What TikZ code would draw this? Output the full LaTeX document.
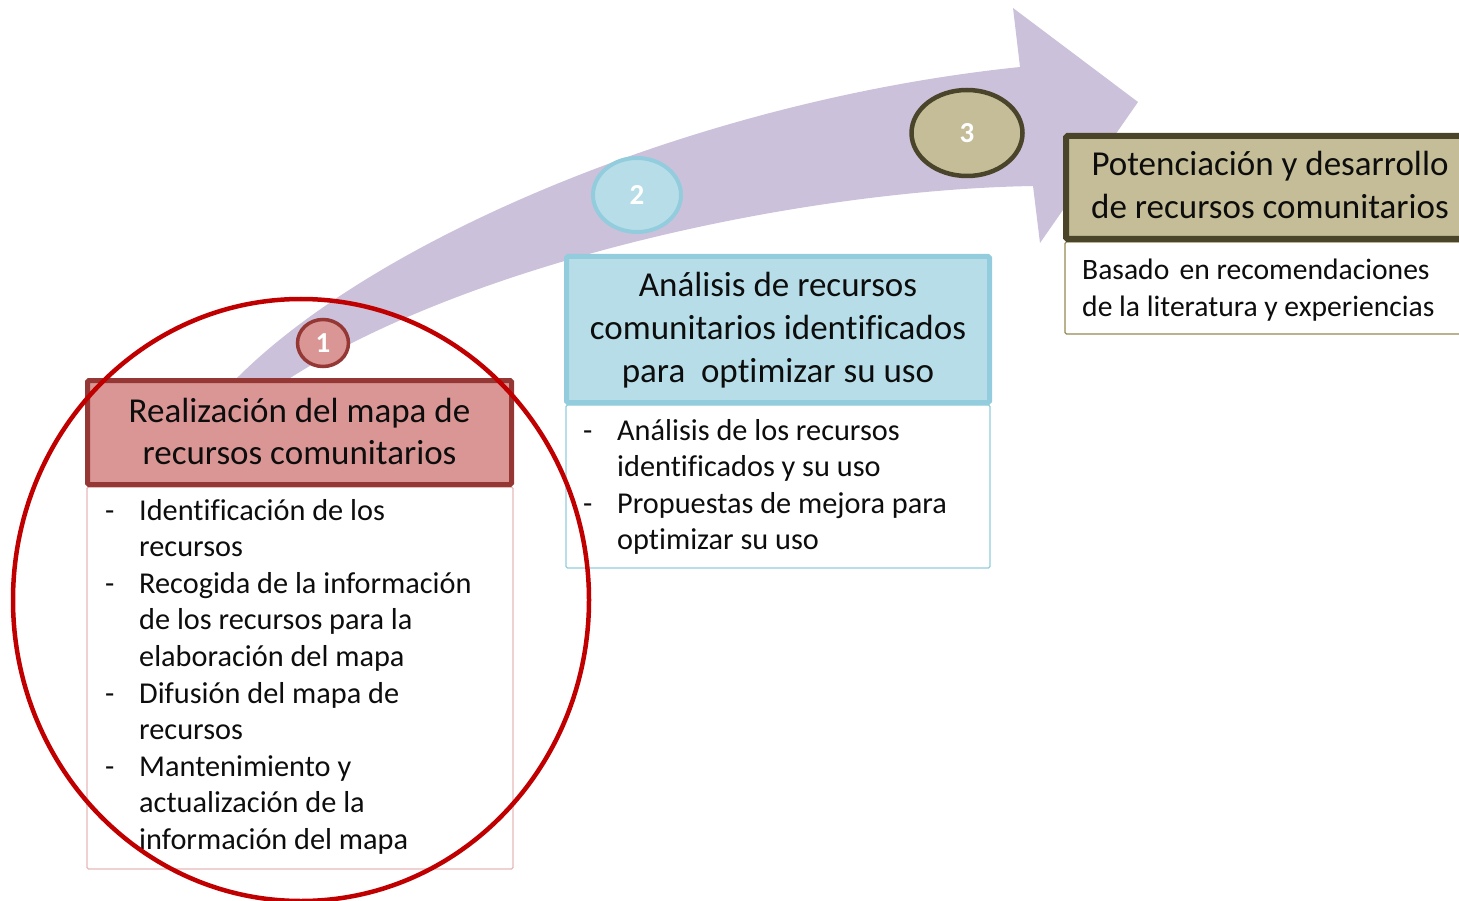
\documentclass[tikz,border=0pt]{standalone}
\usepackage{fontspec}
\setmainfont{Carlito}[Ligatures=NoCommon]
\usetikzlibrary{shapes.geometric}
\definecolor{arrowc}{HTML}{CCC1DA}
\definecolor{redfill}{HTML}{D99694}
\definecolor{redline}{HTML}{953735}
\definecolor{redthin}{HTML}{E6B9B8}
\definecolor{bluefill}{HTML}{B7DEE8}
\definecolor{blueline}{HTML}{93CDDD}
\definecolor{olivefill}{HTML}{C4BD97}
\definecolor{oliveline}{HTML}{4A452A}
\definecolor{olivethin}{HTML}{948A54}
\definecolor{bigred}{HTML}{C00000}
\definecolor{txtc}{HTML}{0D0D0D}
\newcommand{\dashitem}{\makebox[34pt][l]{-}}
\newcommand{\noitem}{\hspace*{34pt}}
\newcommand{\numtxt}[1]{\fontsize{29}{29}\selectfont\bfseries #1}
\begin{document}
\begin{tikzpicture}[x=1pt,y=-1pt,
  box/.style={rectangle, inner sep=0pt, rounded corners=1.5pt},
  thinbox/.style={box, line width=1.2pt, fill=white},
  num/.style={ellipse, inner sep=0pt, text=white},
  hdrtext/.style={inner sep=0pt, anchor=base, text=txtc, font=\fontsize{35}{42.6}\selectfont},
  bodytext/.style={inner sep=0pt, anchor=base west, text=txtc, font=\fontsize{30.3}{36.6}\selectfont}]
\useasboundingbox (0,0) rectangle (1459,901);
\clip (0,0) rectangle (1459,901);

% curved arrow
\fill[arrowc] (235,380) .. controls (375,238) and (700,100) .. (1020,67)
  -- (1013,8) -- (1138,102) -- (1040,243) -- (1033,186)
  .. controls (800,190) and (470,262) .. (287,380) -- cycle;

% step number ellipses
\node[num, draw=redline, fill=redfill, line width=3.5pt, minimum width=51pt, minimum height=47pt] (n1) at (323,343) {\numtxt{1}};
\node[num, draw=blueline, fill=bluefill, line width=4pt, minimum width=88pt, minimum height=74pt] (n2) at (637,195) {\numtxt{2}};
\node[num, draw=oliveline, fill=olivefill, line width=4.5pt, minimum width=111pt, minimum height=86pt] (n3) at (967,133) {\numtxt{3}};

% body boxes
\node[thinbox, draw=redthin, minimum width=426pt, minimum height=382pt] (b1) at (300,678) {};
\node[thinbox, draw=blueline, minimum width=424pt, minimum height=163pt] (b2) at (778,486.5) {};
\node[thinbox, draw=olivethin, minimum width=410pt, minimum height=92pt] (b3) at (1270,288) {};

% header boxes
\node[box, draw=redline, fill=redfill, line width=5pt, minimum width=424pt, minimum height=104pt] (h1) at (299.5,432.5) {};
\node[box, draw=blueline, fill=bluefill, line width=5pt, minimum width=423pt, minimum height=146pt] (h2) at (778,329.5) {};
\node[box, draw=oliveline, fill=olivefill, line width=6pt, minimum width=411pt, minimum height=103pt] (h3) at (1271.5,187.5) {};

% header texts
\node[hdrtext] (t1) at (299.5,422) {\begin{tabular}[t]{@{}c@{}}Realización del mapa de\\recursos comunitarios\end{tabular}};
\node[hdrtext] (t2) at (778,297) {\begin{tabular}[t]{@{}c@{}}Análisis de recursos\\comunitarios identificados\\para\ \ optimizar su uso\end{tabular}};
\node[hdrtext] (t3) at (1270,176) {\begin{tabular}[t]{@{}c@{}}Potenciación y desarrollo\\de recursos comunitarios\end{tabular}};

% body texts
\node[bodytext] (l1) at (105,520) {\begin{tabular}[t]{@{}l@{}}
\dashitem Identificación de los\\
\noitem recursos\\
\dashitem Recogida de la información\\
\noitem de los recursos para la\\
\noitem elaboración del mapa\\
\dashitem Difusión del mapa de\\
\noitem recursos\\
\dashitem Mantenimiento y\\
\noitem actualización de la\\
\noitem información del mapa
\end{tabular}};
\node[bodytext] (l2) at (583,440) {\begin{tabular}[t]{@{}l@{}}
\dashitem Análisis de los recursos\\
\noitem identificados y su uso\\
\dashitem Propuestas de mejora para\\
\noitem optimizar su uso
\end{tabular}};
\node[bodytext, font=\fontsize{29.6}{36.6}\selectfont] (l3) at (1082,280) {\begin{tabular}[t]{@{}l@{}}
Basado\hspace{0.12em} en recomendaciones\\
de la literatura y experiencias
\end{tabular}};

% highlight ellipse
\draw[bigred, line width=4.5pt] (301,600) ellipse [x radius=288, y radius=301];
\end{tikzpicture}
\end{document}
